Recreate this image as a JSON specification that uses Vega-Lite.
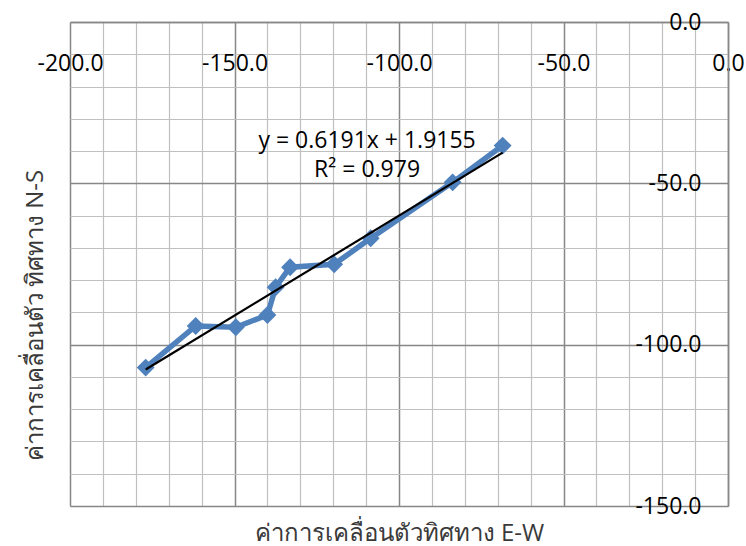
{
  "$schema": "https://vega.github.io/schema/vega-lite/v6.json",
  "width": 658,
  "height": 484,
  "autosize": "none",
  "padding": {"left": 70, "top": 22, "right": 18, "bottom": 40},
  "background": "white",
  "view": {"stroke": null},
  "config": {"font": "Open Sans"},
  "datasets": {
    "pts": [
      {"x": -177.0, "y": -107.1},
      {"x": -161.8, "y": -94.2},
      {"x": -149.6, "y": -94.6},
      {"x": -140.0, "y": -90.8},
      {"x": -137.5, "y": -82.2},
      {"x": -133.1, "y": -76.0},
      {"x": -119.7, "y": -75.1},
      {"x": -108.6, "y": -67.0},
      {"x": -83.7, "y": -49.7},
      {"x": -68.5, "y": -38.3}
    ],
    "trend": [
      {"x": -177.0, "y": -107.7},
      {"x": -68.5, "y": -40.5}
    ]
  },
  "layer": [
    {
      "data": {"name": "pts"},
      "mark": {"type": "line", "color": "#4F81BD", "strokeWidth": 5.5,
        "point": {"shape": "diamond", "size": 320, "filled": true, "color": "#4F81BD"}},
      "encoding": {
        "x": {"field": "x", "type": "quantitative",
          "scale": {"domain": [-200, 0], "nice": false, "zero": false},
          "axis": {
            "orient": "top",
            "values": [-200,-190,-180,-170,-160,-150,-140,-130,-120,-110,-100,-90,-80,-70,-60,-50,-40,-30,-20,-10,0],
            "tickCount": 100,
            "grid": true,
            "gridColor": {"condition": {"test": "datum.value % 50 === 0", "value": "#878787"}, "value": "#C0C0C0"},
            "gridWidth": {"condition": {"test": "datum.value % 50 === 0", "value": 1.5}, "value": 1.2},
            "labelExpr": "datum.value % 50 === 0 ? datum.value + '.0' : ''",
            "ticks": false, "tickSize": 0,
            "labelPadding": -41, "labelBaseline": "middle", "labelAlign": "center",
            "labelFlush": false, "labelOverlap": false, "labelBound": false,
            "labelFontSize": 23, "labelColor": "#000000",
            "domainColor": "#878787", "domainWidth": 1.5,
            "title": "ค่าการเคลื่อนตัวทิศทาง E-W",
            "titleX": 329, "titleY": 518, "titleBaseline": "alphabetic", "titleAlign": "center",
            "titleFontSize": 24, "titleFontWeight": "normal", "titleColor": "#3a3a3a"
          }},
        "y": {"field": "y", "type": "quantitative",
          "scale": {"domain": [-150, 0], "nice": false, "zero": false},
          "axis": {
            "orient": "right",
            "values": [-150,-140,-130,-120,-110,-100,-90,-80,-70,-60,-50,-40,-30,-20,-10,0],
            "tickCount": 100,
            "grid": true,
            "gridColor": {"condition": {"test": "datum.value % 50 === 0", "value": "#878787"}, "value": "#C0C0C0"},
            "gridWidth": {"condition": {"test": "datum.value % 50 === 0", "value": 1.5}, "value": 1.2},
            "labelExpr": "datum.value % 50 === 0 ? datum.value + '.0' : ''",
            "ticks": false, "tickSize": 0,
            "labelPadding": -27, "labelAlign": "right", "labelBaseline": "middle",
            "labelFlush": false, "labelOverlap": false, "labelBound": false,
            "labelFontSize": 23, "labelColor": "#000000",
            "domainColor": "#878787", "domainWidth": 1.5,
            "title": "ค่าการเคลื่อนตัว ทิศทาง N-S",
            "titleAngle": 270, "titleX": -686, "titleY": 293, "titleBaseline": "alphabetic", "titleAlign": "center",
            "titleFontSize": 24, "titleFontWeight": "normal", "titleColor": "#3a3a3a"
          }}
      }
    },
    {
      "data": {"name": "trend"},
      "mark": {"type": "line", "color": "#000000", "strokeWidth": 2.2},
      "encoding": {
        "x": {"field": "x", "type": "quantitative"},
        "y": {"field": "y", "type": "quantitative"}
      }
    },
    {
      "data": {"values": [{}]},
      "mark": {"type": "text", "text": ["y = 0.6191x + 1.9155", "R² = 0.979"], "fontSize": 23, "lineHeight": 29, "align": "center", "baseline": "middle", "color": "#000000"},
      "encoding": {
        "x": {"datum": -109.7, "type": "quantitative"},
        "y": {"datum": -36.9, "type": "quantitative"}
      }
    }
  ]
}
